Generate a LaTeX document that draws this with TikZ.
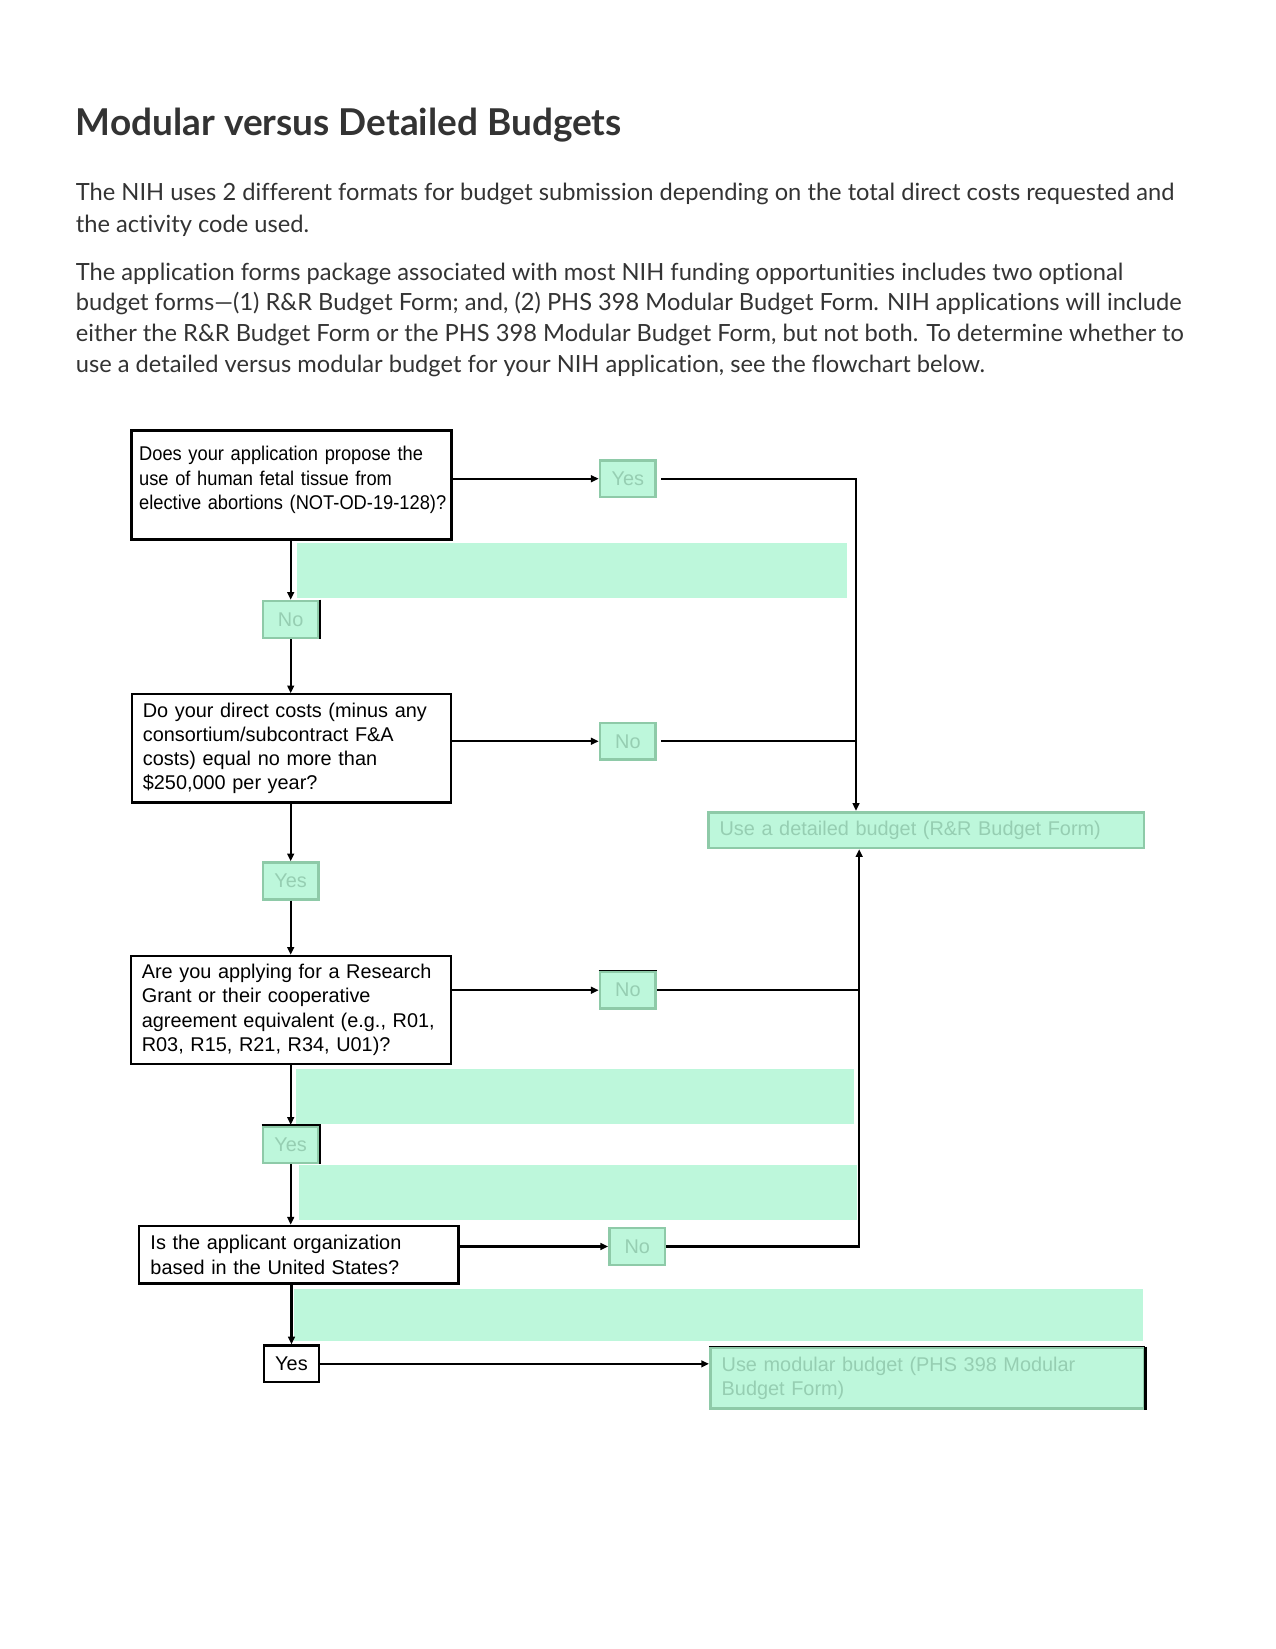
\documentclass[tikz,border=0pt]{standalone}
\usepackage{fontspec}
\setmainfont{Lato}[Ligatures=NoCommon]
\newfontfamily\arial{Liberation Sans}
\newfontfamily\arialnarrow[FakeStretch=0.92]{Liberation Sans}
\usetikzlibrary{arrows.meta}
\definecolor{mintfill}{RGB}{189, 247, 219}
\definecolor{mintline}{RGB}{142, 202, 168}
\definecolor{minttext}{RGB}{150, 206, 178}
\definecolor{bodygray}{RGB}{51, 51, 51}
\newcommand{\flowfont}{\arial\fontsize{14.2pt}{17.25pt}\selectfont}
\newcommand{\bodyfont}{\fontsize{16.9pt}{22.5pt}\selectfont}
\tikzstyle{arrow} = [line width=1.5pt,->,>={Triangle[length=5.5pt,width=4.8pt]}]
\tikzstyle{question} = [rectangle, draw=black, fill=white, anchor=north west,
    align=left, inner xsep=7.5pt, text width=213pt, font=\flowfont, line width=1.5pt]
\tikzstyle{answer} = [rectangle, draw=mintline, fill=mintfill, text=minttext,
    anchor=north west, minimum width=39.75pt, minimum height=26.25pt,
    inner sep=0pt, font=\flowfont, line width=1.9pt]
\tikzstyle{outcome} = [answer, align=left, inner xsep=8pt]
\tikzstyle{bodyline} = [anchor=base west, inner sep=0pt, text=bodygray, font=\bodyfont]

\begin{document}
\begin{tikzpicture}[x=0.75pt,y=-0.75pt]
        \useasboundingbox (0,0) rectangle (1214,1570);

        % Heading
        \node (title) at (72,129) [anchor=base west, inner sep=0pt, text=bodygray,
            font=\fontsize{26.4pt}{32pt}\selectfont\bfseries] {Modular versus Detailed Budgets};

        % Intro paragraphs
        \node (p1a) at (72,191) [bodyline] {The NIH uses 2 different formats for budget submission depending on the total direct costs requested and};
        \node (p1b) at (72,221) [bodyline] {the activity code used.};
        \node (p2a) at (72,267) [bodyline] {The application forms package associated with most NIH funding opportunities includes two optional};
        \node (p2b) at (72,296) [bodyline] {budget forms—(1) R\&R Budget Form; and, (2) PHS 398 Modular Budget Form. NIH applications will include};
        \node (p2c) at (72,325) [bodyline] {either the R\&R Budget Form or the PHS 398 Modular Budget Form, but not both. To determine whether to};
        \node (p2d) at (72,355) [bodyline] {use a detailed versus modular budget for your NIH application, see the flowchart below.};

        % Empty green bands
        \fill [mintfill] (283,517) rectangle (806,569);
        \fill [mintfill] (282,1018) rectangle (813,1070);
        \fill [mintfill] (285,1109) rectangle (816,1162);
        \fill [mintfill] (280,1227) rectangle (1088,1277);

        % Questions
        \node (q1) at (124,408) [question, line width=2.25pt, inner xsep=5.25pt, text width=217.5pt,
            minimum height=78pt, font=\arialnarrow\fontsize{14.2pt}{17.6pt}\selectfont]
            {Does your application propose the\\ use of human fetal tissue from\\
             \mbox{elective abortions (NOT-OD-19-128)?}\\[-8pt]\mbox{}};
        \node (q2) at (125,660) [question, minimum height=77.25pt, text width=212.25pt]
            {Do your direct costs (minus any\\ consortium/subcontract F\&A\\ costs) equal no more than\\ \$250,000 per year?};
        \node (q3) at (124,909) [question, minimum height=77.25pt]
            {Are you applying for a Research\\ Grant or their cooperative\\ agreement equivalent (e.g., R01,\\ R03, R15, R21, R34, U01)?};
        \node (q4) at (131,1166) [question, minimum height=41.25pt, line width=1.9pt, inner xsep=8.25pt, text width=211.5pt]
            {Is the applicant organization\\ based in the United States?};

        % Answers
        \node (yes1) at (570,437) [answer] {Yes};
        \node (no1) at (249,571) [answer] {No};
        \node (no2) at (570,687) [answer] {No};
        \node (yes2) at (249,820) [answer] {Yes};
        \node (no3) at (570,924) [answer] {No};
        \node (yes3) at (249,1071) [answer] {Yes};
        \node (no4) at (579,1168) [answer] {No};
        \node (yes4) at (250,1280) [answer, draw=black, fill=white, text=black, line width=1.5pt] {Yes};

        % Outcomes
        \node (detailed) at (673,772) [outcome, minimum width=311.25pt, minimum height=25.5pt, text width=295pt]
            {Use a detailed budget (R\&R Budget Form)};
        \node (modular) at (675,1282) [outcome, minimum width=309.75pt, minimum height=43.5pt, text width=293.5pt]
            {Use modular budget (PHS 398 Modular\\ Budget Form)};
        \coordinate (dtop) at ([xshift=106.5pt]detailed.north west);
        \coordinate (dbot) at ([xshift=108.75pt]detailed.south west);

        % Dark edges on some boxes
        \draw [line width=1.5pt] (no1.north east) -- (no1.south east);
        \draw [line width=1.2pt] (yes3.north west) -- (yes3.north east) -- (yes3.south east);
        \draw [line width=1pt] (no3.north west) -- (no3.north east);
        \draw [line width=1pt] (modular.north west) -- (modular.north east);
        \draw [line width=2pt] (modular.north east) -- (modular.south east);

        % Connectors
        \draw [arrow] (q1.east |- yes1.west) -- (yes1.west);
        \draw [arrow] ([xshift=3pt]yes1.east) -| (dtop);
        \draw [arrow] (q1.south -| no1.north) -- (no1.north);
        \draw [arrow] (no1.south) -- (no1.south |- q2.north);
        \draw [arrow] (q2.east |- no2.west) -- (no2.west);
        \draw [line width=1.5pt] ([xshift=3pt]no2.east) -- (no2.east -| dtop);
        \draw [arrow] (q2.south -| yes2.north) -- (yes2.north);
        \draw [arrow] (yes2.south) -- (yes2.south |- q3.north);
        \draw [arrow] (q3.east |- no3.west) -- (no3.west);
        \draw [line width=1.5pt] (no3.east) -- (no3.east -| dbot);
        \draw [arrow] (q3.south -| yes3.north) -- (yes3.north);
        \draw [arrow] (yes3.south) -- (yes3.south |- q4.north);
        \draw [arrow] (q4.east |- no4.west) -- (no4.west);
        \draw [arrow] (no4.east) -| (dbot);
        \draw [arrow] (q4.south -| yes4.north) -- (yes4.north);
        \draw [arrow] (yes4.east) -- (yes4.east -| modular.west);
    \end{tikzpicture}
\end{document}
